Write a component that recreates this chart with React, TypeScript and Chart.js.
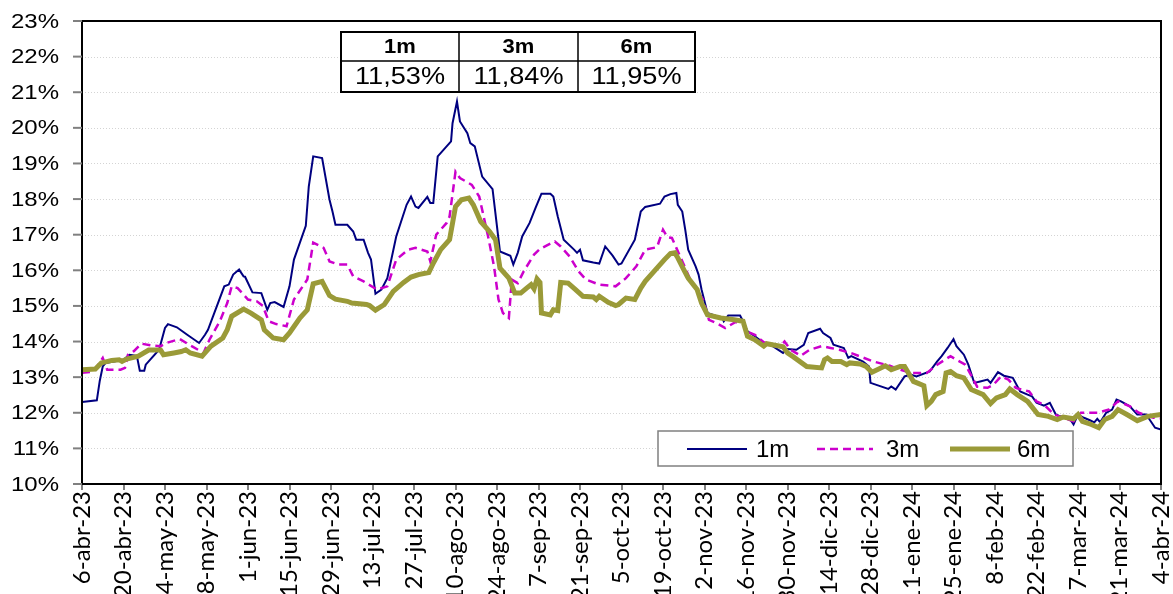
import React, { useEffect, useRef } from "react";
import { Chart, registerables } from "chart.js";

Chart.register(...registerables);

// Day offsets counted from 6-abr-23 (x axis spans 0..364 days)
const tickLabels = [
  "6-abr-23", "20-abr-23", "4-may-23", "18-may-23", "1-jun-23", "15-jun-23", "29-jun-23",
  "13-jul-23", "27-jul-23", "10-ago-23", "24-ago-23", "7-sep-23", "21-sep-23", "5-oct-23",
  "19-oct-23", "2-nov-23", "16-nov-23", "30-nov-23", "14-dic-23", "28-dic-23", "11-ene-24",
  "25-ene-24", "8-feb-24", "22-feb-24", "7-mar-24", "21-mar-24", "4-abr-24",
];

const m1Days = [0, 5, 6, 7, 8, 14, 16, 18.5, 19.5, 21, 21.5, 26, 28, 29, 32, 33.5, 35.5, 39.5, 41.5, 42.5, 48, 49.5, 51, 53, 54.5, 55, 57.5, 60.5, 62.5, 63.5, 65, 68, 70, 71.5, 75.5, 76.5, 78, 81, 83.5, 84.5, 85.5, 89.5, 91.5, 92.5, 95, 96.5, 97.5, 99, 101, 103, 106, 109.5, 111, 112.5, 113.5, 116.5, 117.5, 118.5, 120, 121.5, 124.5, 125, 126.5, 127.5, 130, 131, 132.5, 135, 138.5, 141, 144.5, 145.5, 147, 148.5, 151, 153, 155, 158, 159, 160.5, 162.5, 166, 167, 168, 169, 172.5, 174.5, 176.5, 179, 181, 182, 186.5, 188.5, 190, 195, 196.5, 198.5, 200.5, 201, 202.5, 203.5, 204.5, 207, 208, 209, 211, 216, 216.5, 218, 222, 223, 224.5, 227, 230, 233, 236.5, 238, 241, 243.5, 245, 249, 250, 252.5, 253.5, 257, 258.5, 259.5, 263.5, 265.5, 266, 272, 273, 274.5, 277.5, 279.5, 281.5, 286, 288.5, 290, 292, 294, 295, 297.5, 299, 301, 303, 305.5, 306.5, 309, 311, 314, 316.5, 319, 320.5, 322, 324.5, 326.5, 328.5, 330, 333, 334.5, 336, 338, 340, 341.5, 342.5, 343.5, 345.5, 347.5, 349, 350.5, 353.5, 356, 359, 362, 364];
const m1Values = [12.30, 12.35, 12.9, 13.30, 13.40, 13.49, 13.63, 13.60, 13.18, 13.18, 13.35, 13.77, 14.38, 14.49, 14.40, 14.31, 14.19, 13.96, 14.19, 14.33, 15.55, 15.60, 15.88, 16.02, 15.83, 15.82, 15.38, 15.36, 14.89, 15.08, 15.11, 14.97, 15.55, 16.30, 17.25, 18.35, 19.20, 19.15, 17.98, 17.65, 17.28, 17.28, 17.09, 16.86, 16.86, 16.49, 16.30, 15.34, 15.46, 15.78, 16.95, 17.84, 18.07, 17.79, 17.75, 18.06, 17.89, 17.89, 19.20, 19.34, 19.62, 20.13, 20.74, 20.18, 19.85, 19.57, 19.48, 18.63, 18.28, 16.53, 16.41, 16.16, 16.49, 16.95, 17.33, 17.75, 18.15, 18.15, 18.07, 17.51, 16.86, 16.58, 16.49, 16.58, 16.28, 16.22, 16.19, 16.67, 16.41, 16.16, 16.19, 16.86, 17.65, 17.78, 17.87, 18.07, 18.14, 18.17, 17.84, 17.65, 17.14, 16.58, 16.11, 15.88, 15.46, 14.80, 14.66, 14.57, 14.73, 14.73, 14.57, 14.29, 14.15, 13.96, 13.87, 13.68, 13.79, 13.77, 13.91, 14.24, 14.36, 14.24, 14.10, 13.91, 13.82, 13.54, 13.59, 13.44, 13.30, 12.84, 12.67, 12.74, 12.65, 13.02, 13.07, 13.02, 13.16, 13.44, 13.59, 13.82, 14.07, 13.87, 13.63, 13.35, 12.84, 12.88, 12.93, 12.84, 13.14, 13.04, 12.98, 12.60, 12.51, 12.46, 12.28, 12.20, 12.28, 11.95, 11.90, 11.86, 11.67, 11.95, 11.86, 11.79, 11.73, 11.83, 11.73, 12.00, 12.09, 12.37, 12.32, 12.18, 11.95, 11.95, 11.58, 11.53];

const m3Days = [0, 4, 7, 8.5, 13, 14.5, 15.5, 17.5, 20, 23.5, 26.5, 28.5, 33, 37, 41, 43, 46.5, 49, 50.5, 52.5, 56, 59, 61, 63, 65.5, 69, 71.5, 76, 78, 81.5, 83.5, 86.5, 89.5, 91.5, 95, 99.5, 103, 106, 110, 112.5, 116.5, 117.5, 119.5, 123, 124, 126, 127.5, 131.5, 134, 135.5, 137, 139, 140.5, 142, 144, 145, 147, 149, 152.5, 154.5, 159.5, 161.5, 164.5, 167.5, 170, 174.5, 180, 183.5, 187, 190, 194, 196, 197.5, 199, 200.5, 203, 205, 209.5, 211.5, 214, 217, 220.5, 223, 224, 227, 230, 232.5, 235.5, 237, 239, 242.5, 245.5, 249.5, 252.5, 255.5, 260, 267, 272.5, 276, 279.5, 285, 288.5, 293, 295, 298, 299.5, 302, 305.5, 307.5, 310, 312.5, 315, 317, 319.5, 322, 324.5, 328, 331, 334.5, 337, 342.5, 346.5, 349.5, 353.5, 356.5, 361.5, 364];
const m3Values = [13.12, 13.16, 13.54, 13.21, 13.21, 13.26, 13.63, 13.73, 13.94, 13.89, 13.87, 13.96, 14.07, 13.87, 13.68, 14.05, 14.57, 15.08, 15.55, 15.50, 15.18, 15.13, 15.00, 14.57, 14.49, 14.43, 15.18, 15.74, 16.78, 16.63, 16.25, 16.16, 16.16, 15.83, 15.69, 15.46, 15.55, 16.30, 16.58, 16.63, 16.53, 16.25, 17.00, 17.33, 17.51, 18.77, 18.59, 18.40, 18.07, 17.51, 16.95, 16.11, 15.18, 14.80, 14.66, 15.74, 15.64, 15.97, 16.44, 16.60, 16.81, 16.67, 16.39, 15.97, 15.74, 15.60, 15.55, 15.78, 16.11, 16.58, 16.65, 17.14, 16.93, 16.91, 16.63, 16.16, 15.78, 15.18, 14.61, 14.52, 14.38, 14.55, 14.52, 14.29, 14.19, 13.98, 13.91, 13.87, 14.00, 13.77, 13.60, 13.77, 13.87, 13.82, 13.77, 13.66, 13.44, 13.32, 13.21, 13.12, 13.12, 13.35, 13.59, 13.49, 13.35, 13.12, 12.73, 12.70, 12.79, 13.02, 12.93, 12.70, 12.65, 12.60, 12.32, 12.23, 11.95, 11.86, 11.76, 12.00, 12.00, 12.09, 12.32, 12.18, 12.00, 11.86, 11.84];

const m6Days = [0, 4.5, 6.5, 10, 12.5, 13.5, 15, 19, 22.5, 26.5, 27.5, 31, 33.5, 35, 36.5, 40.5, 43.5, 47.5, 49, 50.5, 54.5, 57, 60.5, 61.5, 64.5, 68, 70, 73.5, 76, 78, 81, 83.5, 85.5, 89.5, 91, 96, 97, 99, 102, 105, 108.5, 111, 113.5, 117, 118.5, 121, 124, 126, 128, 130.5, 132, 134.5, 137.5, 139.5, 141, 144, 146, 148, 150, 151.5, 152.5, 153.5, 154.5, 155, 158, 159, 160.5, 161.5, 164, 166.5, 169, 172.5, 173.5, 174.5, 177.5, 180, 181, 183.5, 186.5, 188.5, 190, 193.5, 196.5, 198.5, 200, 201, 203, 204.5, 207.5, 209, 211, 215.5, 220, 223, 224.5, 227, 230, 231, 236.5, 238, 240, 244.5, 249.5, 250.5, 251.5, 253, 256, 258, 259, 262.5, 264.5, 266.5, 271, 273, 276, 277.5, 280.5, 284, 285, 286.5, 288, 290.5, 291.5, 293, 295, 297.5, 300, 304, 306.5, 308.5, 311.5, 313, 315.5, 319, 322.5, 326, 329, 331, 334.5, 336, 337.5, 340.5, 343, 345, 347.5, 349.5, 352.5, 356, 359.5, 364];
const m6Values = [13.21, 13.23, 13.40, 13.47, 13.49, 13.44, 13.51, 13.59, 13.76, 13.76, 13.63, 13.68, 13.72, 13.77, 13.68, 13.59, 13.87, 14.10, 14.33, 14.71, 14.91, 14.80, 14.61, 14.33, 14.10, 14.05, 14.24, 14.66, 14.89, 15.62, 15.69, 15.29, 15.19, 15.13, 15.08, 15.04, 15.01, 14.88, 15.04, 15.41, 15.66, 15.81, 15.88, 15.94, 16.20, 16.58, 16.86, 17.79, 17.98, 18.03, 17.84, 17.37, 17.09, 16.86, 16.06, 15.78, 15.36, 15.36, 15.50, 15.60, 15.48, 15.76, 15.66, 14.80, 14.75, 14.89, 14.87, 15.66, 15.64, 15.46, 15.27, 15.25, 15.18, 15.27, 15.10, 15.01, 15.04, 15.22, 15.18, 15.50, 15.69, 16.02, 16.30, 16.47, 16.49, 16.35, 16.02, 15.78, 15.46, 15.08, 14.75, 14.66, 14.61, 14.57, 14.15, 14.05, 13.87, 13.94, 13.85, 13.68, 13.57, 13.30, 13.26, 13.49, 13.54, 13.44, 13.44, 13.35, 13.40, 13.37, 13.30, 13.14, 13.32, 13.21, 13.30, 13.30, 12.88, 12.76, 12.20, 12.32, 12.51, 12.60, 13.12, 13.16, 13.04, 12.98, 12.65, 12.51, 12.26, 12.42, 12.51, 12.67, 12.51, 12.32, 11.95, 11.90, 11.81, 11.88, 11.83, 11.95, 11.76, 11.67, 11.58, 11.81, 11.90, 12.09, 11.95, 11.78, 11.90, 11.95];

const seriesNames = ["1m", "3m", "6m"];
const latestValues = ["11,53%", "11,84%", "11,95%"];

const yMin = 10;
const yMax = 23;
const dayStep = 14;
const dayMax = 364;

const toPoints = (days: number[], vals: number[]) => days.map((d, i) => ({ x: d, y: vals[i] }));

const ARIAL = "'Liberation Sans', Arial, sans-serif";

const framePlugin = {
  id: "frame",
  beforeDatasetsDraw(chart: any) {
    const { ctx, chartArea, scales } = chart;
    const y = scales.y;
    ctx.save();
    ctx.strokeStyle = "#d4d4d4";
    ctx.lineWidth = 1;
    ctx.setLineDash([1, 2]);
    for (let v = yMin + 1; v < yMax; v++) {
      const py = Math.round(y.getPixelForValue(v)) + 0.5;
      ctx.beginPath();
      ctx.moveTo(chartArea.left, py);
      ctx.lineTo(chartArea.right, py);
      ctx.stroke();
    }
    ctx.restore();
  },
  afterDraw(chart: any) {
    const { ctx, chartArea, scales } = chart;
    const y = scales.y;
    ctx.save();
    // frame
    ctx.strokeStyle = "#000";
    ctx.lineWidth = 2;
    ctx.strokeRect(chartArea.left, chartArea.top, chartArea.right - chartArea.left, chartArea.bottom - chartArea.top);
    // y tick marks + labels (slightly widened Arial-like text)
    ctx.strokeStyle = "#808080";
    ctx.lineWidth = 2;
    ctx.fillStyle = "#000";
    ctx.font = "20px " + ARIAL;
    ctx.textAlign = "right";
    ctx.textBaseline = "middle";
    for (let v = yMin; v <= yMax; v++) {
      const py = y.getPixelForValue(v);
      ctx.beginPath();
      ctx.moveTo(chartArea.left - 9, py);
      ctx.lineTo(chartArea.left, py);
      ctx.stroke();
      ctx.save();
      ctx.translate(chartArea.left - 23, py + 1);
      ctx.scale(1.2, 1);
      ctx.fillText(v + "%", 0, 0);
      ctx.restore();
    }

    // summary table
    const tx = [341, 459, 578, 695];
    const ty = [32, 61, 92];
    ctx.fillStyle = "#fff";
    ctx.fillRect(tx[0], ty[0], tx[3] - tx[0], ty[2] - ty[0]);
    ctx.strokeStyle = "#000";
    ctx.lineWidth = 2;
    ctx.strokeRect(tx[0], ty[0], tx[3] - tx[0], ty[2] - ty[0]);
    ctx.lineWidth = 1.5;
    ctx.beginPath();
    ctx.moveTo(tx[0], ty[1]);
    ctx.lineTo(tx[3], ty[1]);
    ctx.moveTo(tx[1], ty[0]);
    ctx.lineTo(tx[1], ty[2]);
    ctx.moveTo(tx[2], ty[0]);
    ctx.lineTo(tx[2], ty[2]);
    ctx.stroke();
    ctx.fillStyle = "#000";
    ctx.textAlign = "center";
    ctx.textBaseline = "middle";
    for (let i = 0; i < 3; i++) {
      const cx = (tx[i] + tx[i + 1]) / 2;
      ctx.save();
      ctx.translate(cx, (ty[0] + ty[1]) / 2 + 1);
      ctx.scale(1.1, 1);
      ctx.font = "bold 20px " + ARIAL;
      ctx.fillText(seriesNames[i], 0, 0);
      ctx.restore();
      ctx.save();
      ctx.translate(cx, (ty[1] + ty[2]) / 2 + 1);
      ctx.scale(1.18, 1);
      ctx.font = "23px " + ARIAL;
      ctx.fillText(latestValues[i], 0, 0);
      ctx.restore();
    }

    // legend box
    const lx0 = 658, lx1 = 1073, ly0 = 431, ly1 = 466;
    ctx.fillStyle = "#fff";
    ctx.fillRect(lx0, ly0, lx1 - lx0, ly1 - ly0);
    ctx.strokeStyle = "#808080";
    ctx.lineWidth = 1.5;
    ctx.setLineDash([]);
    ctx.strokeRect(lx0, ly0, lx1 - lx0, ly1 - ly0);
    const sampleX = [[687, 747], [817, 873], [950, 1010]];
    const textX = [756, 886, 1017];
    const ly = 449;
    chart.data.datasets.forEach((ds: any, i: number) => {
      ctx.save();
      ctx.strokeStyle = ds.borderColor;
      ctx.lineWidth = ds.borderWidth;
      ctx.setLineDash(ds.borderDash || []);
      ctx.beginPath();
      ctx.moveTo(sampleX[i][0], ly);
      ctx.lineTo(sampleX[i][1], ly);
      ctx.stroke();
      ctx.restore();
      ctx.fillStyle = "#000";
      ctx.font = "24px " + ARIAL;
      ctx.textAlign = "left";
      ctx.textBaseline = "middle";
      ctx.fillText(ds.label, textX[i], ly + 1);
    });
    ctx.restore();
  },
};

export default function App() {
  const canvasRef = useRef<HTMLCanvasElement | null>(null);

  useEffect(() => {
    if (!canvasRef.current) return;
    const chart = new Chart(canvasRef.current, {
      type: "line",
      data: {
        datasets: [
          {
            label: seriesNames[0],
            data: toPoints(m1Days, m1Values),
            borderColor: "#000080",
            borderWidth: 2,
            pointRadius: 0,
            tension: 0,
            order: 2,
          },
          {
            label: seriesNames[1],
            data: toPoints(m3Days, m3Values),
            borderColor: "#cc00cc",
            borderWidth: 2.5,
            borderDash: [8, 5],
            pointRadius: 0,
            tension: 0,
            order: 1,
          },
          {
            label: seriesNames[2],
            data: toPoints(m6Days, m6Values),
            borderColor: "#9a9a38",
            borderWidth: 5,
            pointRadius: 0,
            tension: 0,
            order: 0,
          },
        ],
      },
      options: {
        animation: false,
        responsive: true,
        maintainAspectRatio: false,
        layout: { padding: { top: 21, right: 12, left: 0, bottom: 0 } },
        plugins: { legend: { display: false }, tooltip: { enabled: false } },
        scales: {
          x: {
            type: "linear",
            min: 0,
            max: dayMax,
            grid: {
              display: true,
              drawOnChartArea: false,
              drawTicks: true,
              tickLength: 6,
              tickColor: "#808080",
              lineWidth: 2,
            },
            border: { display: true, color: "#000", width: 2 },
            ticks: {
              stepSize: dayStep,
              autoSkip: false,
              minRotation: 90,
              maxRotation: 90,
              padding: 1,
              color: "#000",
              font: { family: "Lato, 'Open Sans', sans-serif", size: 24 },
              callback: (v: any) => tickLabels[Math.round(Number(v) / dayStep)] ?? "",
            },
            afterFit: (s: any) => {
              s.height = 110;
              s.paddingLeft = 0;
              s.paddingRight = 0;
            },
          },
          y: {
            type: "linear",
            min: yMin,
            max: yMax,
            grid: { display: false, drawTicks: false },
            border: { display: true, color: "#000", width: 2 },
            ticks: { display: false, stepSize: 1 },
            afterFit: (s: any) => {
              s.width = 82;
            },
          },
        },
      },
      plugins: [framePlugin],
    });
    return () => chart.destroy();
  }, []);

  return (
    <div style={{ position: "absolute", left: 0, top: 0, width: 1173, height: 594, background: "#fff" }}>
      <canvas ref={canvasRef} />
    </div>
  );
}
